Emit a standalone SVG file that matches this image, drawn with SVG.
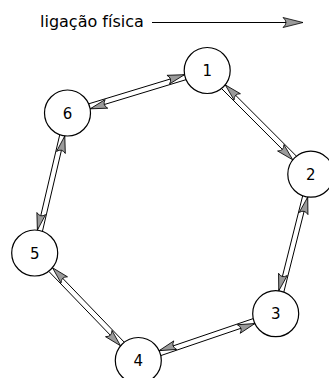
<svg xmlns="http://www.w3.org/2000/svg" width="329" height="378" viewBox="0 0 329 378">
<style>
  .node circle { fill: #ffffff; stroke: #000000; stroke-width: 1.2; }
  .node text { font-family: "DejaVu Sans", sans-serif; font-size: 15px; text-anchor: middle; fill: #000000; }
  .link { stroke: #000000; stroke-width: 1; fill: none; marker-end: url(#arr); }
  .legend-text { font-family: "DejaVu Sans", sans-serif; font-size: 16px; fill: #000000; }
</style>
<defs>
  <marker id="arr" markerUnits="userSpaceOnUse" markerWidth="20" markerHeight="12" refX="17" refY="6" orient="auto" overflow="visible">
    <path d="M17,6 L0,1.5 Q4.5,6 0,10.5 Z" fill="#9a9a9a" stroke="#000000" stroke-width="0.8" stroke-linejoin="miter"/>
  </marker>
  <marker id="arrbig" markerUnits="userSpaceOnUse" markerWidth="22" markerHeight="12" refX="20" refY="6" orient="auto" overflow="visible">
    <path d="M20,6 L0,1 Q6,6 0,11 Z" fill="#9a9a9a" stroke="#000000" stroke-width="0.8"/>
  </marker>
</defs>

<g id="legend">
  <text class="legend-text" x="40" y="27">ligação física</text>
  <line x1="152" y1="22.5" x2="303" y2="22.5" stroke="#000000" stroke-width="1" marker-end="url(#arrbig)"/>
</g>

<g id="connectors">
  <line class="link" x1="221.54" y1="88.54" x2="292.78" y2="159.84"/>
  <line class="link" x1="296.46" y1="156.16" x2="225.22" y2="84.86"/>
  <line class="link" x1="302.69" y1="195.78" x2="278.77" y2="290.86"/>
  <line class="link" x1="283.81" y1="292.12" x2="307.73" y2="197.04"/>
  <line class="link" x1="253.18" y1="318.62" x2="159.14" y2="350.66"/>
  <line class="link" x1="160.82" y1="355.58" x2="254.86" y2="323.54"/>
  <line class="link" x1="124.28" y1="342.21" x2="52.46" y2="267.69"/>
  <line class="link" x1="48.72" y1="271.29" x2="120.54" y2="345.81"/>
  <line class="link" x1="42.45" y1="231.29" x2="64.81" y2="135.89"/>
  <line class="link" x1="59.75" y1="134.71" x2="37.39" y2="230.11"/>
  <line class="link" x1="88.65" y1="103.84" x2="184.53" y2="74.68"/>
  <line class="link" x1="186.05" y1="79.66" x2="90.17" y2="108.82"/>
</g>

<g id="node1" class="node"><circle cx="207.2" cy="70.5" r="23"/><text x="207.2" y="76">1</text></g>
<g id="node2" class="node"><circle cx="310.8" cy="174.2" r="23"/><text x="310.8" y="179.7">2</text></g>
<g id="node3" class="node"><circle cx="275.7" cy="313.7" r="23"/><text x="275.7" y="319.2">3</text></g>
<g id="node4" class="node"><circle cx="138.3" cy="360.5" r="23"/><text x="138.3" y="366">4</text></g>
<g id="node5" class="node"><circle cx="34.7" cy="253" r="23"/><text x="34.7" y="258.5">5</text></g>
<g id="node6" class="node"><circle cx="67.5" cy="113" r="23"/><text x="67.5" y="118.5">6</text></g>
</svg>
